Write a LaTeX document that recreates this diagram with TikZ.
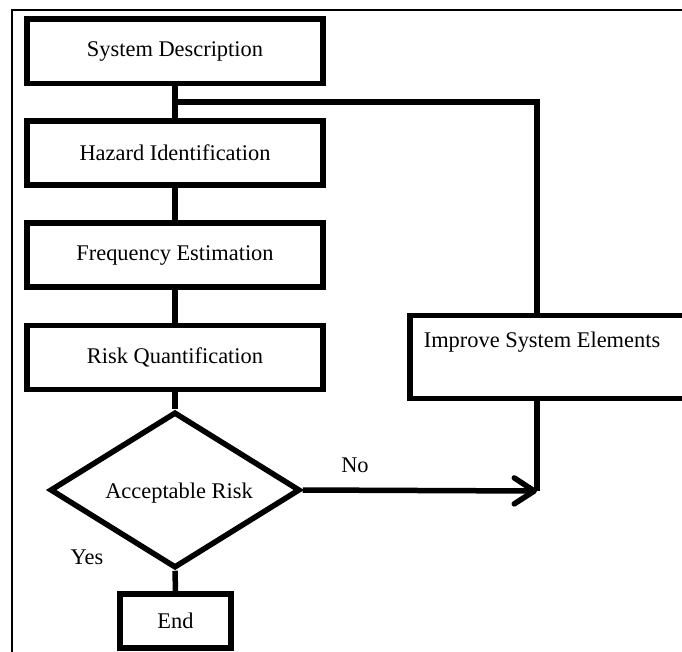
\documentclass[tikz,border=0pt]{standalone}
\usepackage{fontspec}
\setmainfont{Liberation Serif}
\usetikzlibrary{shapes.geometric,arrows.meta}

\begin{document}
\begin{tikzpicture}[x=1pt,y=-1pt,
  every node/.style={font=\fontsize{22.4}{26}\selectfont},
  stepbox/.style={draw, line width=5.5pt, rectangle, minimum width=296pt, minimum height=64pt, inner sep=0pt},
  decision/.style={draw, line width=5.5pt, diamond, minimum width=250pt, minimum height=156pt, inner sep=0pt},
  link/.style={line width=5.5pt},
  flowarrow/.style={line width=5.5pt, -{Straight Barb[length=20pt,width=26pt,round]}},
  frameline/.style={line width=1.6pt},
  lbl/.style={inner sep=0pt}
]
\useasboundingbox (0,0) rectangle (682,651);
\clip (0,0) rectangle (682,651);

% outer frame (open at right and bottom)
\draw[frameline] (12,660) -- (12,10) -- (690,10);

% main chain
\node[stepbox, minimum height=64.5pt] (sd) at (175,51) {System Description};
\node[stepbox] (hz) at (175,153) {Hazard Identification};
\node[stepbox] (fq) at (175,255) {Frequency Estimation};
\node[stepbox] (rq) at (175,357.5) {Risk Quantification};
\node[decision] (ar) at (175,490) {};
\node[lbl] (art) at (179,493) {Acceptable Risk};
\node[stepbox, minimum width=111pt, minimum height=54pt] (en) at (175.5,621) {End};

% improvement box, running off the right edge
\node[draw, line width=5.5pt, rectangle, minimum width=310pt, minimum height=83pt, inner sep=0pt] (imp) at (565,357) {};
\node[lbl] (impt) at (542,342) {Improve System Elements};

\coordinate (fb) at (175,102);
\coordinate (imptop) at (537,315.5);
\coordinate (impbot) at (537,398.5);
\coordinate (tip) at (537,491);

\draw[link] (sd.south) -- (hz.north);
\draw[link] (hz.south) -- (fq.north);
\draw[link] (fq.south) -- (rq.north);
\draw[link] (rq.south) -- (ar.north);
\draw[link] (ar.south) -- (en.north);

% feedback loop
\draw[link] (fb) -| (imptop);
\draw[link] (impbot) -- (tip);
\draw[flowarrow] (ar.east) -- (tip);

\node[lbl] (no) at (355,465) {No};
\node[lbl] (yes) at (87,557) {Yes};
\end{tikzpicture}
\end{document}
